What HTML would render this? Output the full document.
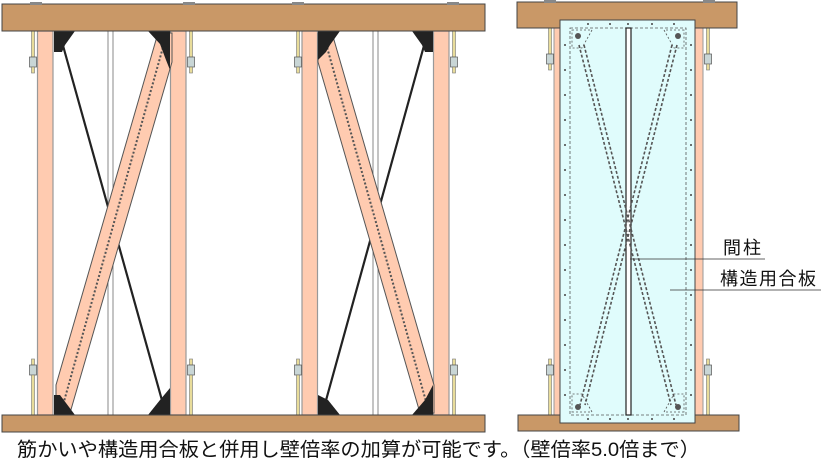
<!DOCTYPE html>
<html><head><meta charset="utf-8"><style>
body{margin:0;background:#fff;width:821px;height:464px;overflow:hidden}
svg{display:block}
</style></head><body>
<svg width="821" height="464" viewBox="0 0 821 464" xmlns="http://www.w3.org/2000/svg">
<defs>
<g id="bolt">
  <rect x="-1.5" y="0" width="3" height="26" fill="#e8dc9a" stroke="#777" stroke-width="0.6"/>
  <rect x="-3.5" y="26" width="7" height="10" fill="#c9d6d6" stroke="#555" stroke-width="0.7"/>
  <rect x="-1.5" y="36" width="3" height="6" fill="#e8dc9a" stroke="#777" stroke-width="0.6"/>
</g>
<g id="bolt2">
  <rect x="-1.5" y="-6" width="3" height="6" fill="#e8dc9a" stroke="#777" stroke-width="0.6"/>
  <rect x="-3.5" y="0" width="7" height="10" fill="#c9d6d6" stroke="#555" stroke-width="0.7"/>
  <rect x="-1.5" y="10" width="3" height="40" fill="#e8dc9a" stroke="#777" stroke-width="0.6"/>
</g>
</defs>

<rect x="108" y="31" width="5" height="384" fill="#fff" stroke="#888" stroke-width="1"/>
<rect x="373" y="31" width="5" height="384" fill="#fff" stroke="#888" stroke-width="1"/>
<g fill="#ffcbb0" stroke="#999" stroke-width="1.2">
<rect x="37.5" y="31" width="15.5" height="384"/>
<rect x="170.5" y="31" width="15.5" height="384"/>
<rect x="302" y="31" width="15.5" height="384"/>
<rect x="433.5" y="31" width="15.5" height="384"/>
</g>
<g stroke="#222" stroke-width="2.2">
<line x1="62" y1="42" x2="163" y2="404"/>
<line x1="425" y1="42" x2="325" y2="404"/>
</g>
<polygon points="158,33 172,33 172,62 70,413 56,413 56,385" fill="#ffcbb0" stroke="#555" stroke-width="1"/>
<line x1="165" y1="40" x2="63" y2="405" stroke="#555" stroke-width="2" stroke-dasharray="2,2"/>
<polygon points="318,33 332,33 434,385 434,413 420,413 318,62" fill="#ffcbb0" stroke="#555" stroke-width="1"/>
<line x1="325" y1="40" x2="427" y2="405" stroke="#555" stroke-width="2" stroke-dasharray="2,2"/>
<g fill="#222">
<polygon points="54,31 75,31 65,45 62,52 54,52"/>
<polygon points="148,31 170,31 170,70 166,60 160,44"/>
<polygon points="318,31 340,31 330,45 326,52 318,60"/>
<polygon points="412,31 433,31 433,52 425,52 422,45"/>
<polygon points="54,395 60,395 75,415 54,415"/>
<polygon points="170,388 170,415 148,415 160,400"/>
<polygon points="318,395 318,415 340,415 328,400"/>
<polygon points="433,385 433,415 412,415 425,400"/>
</g>
<use href="#bolt" x="33" y="31"/>
<use href="#bolt" x="191" y="31"/>
<use href="#bolt" x="298" y="31"/>
<use href="#bolt" x="454" y="31"/>
<use href="#bolt2" x="33" y="365"/>
<use href="#bolt2" x="191" y="365"/>
<use href="#bolt2" x="298" y="365"/>
<use href="#bolt2" x="454" y="365"/>
<rect x="2" y="4" width="483" height="27" fill="#c99867" stroke="#444" stroke-width="1"/>
<rect x="2" y="415" width="483" height="17" fill="#c99867" stroke="#444" stroke-width="1"/>
<rect x="30" y="2" width="12" height="3" fill="#888"/>
<rect x="183" y="2" width="12" height="3" fill="#888"/>
<rect x="292" y="2" width="12" height="3" fill="#888"/>
<rect x="447" y="2" width="12" height="3" fill="#888"/>

<rect x="554" y="28" width="8" height="387" fill="#ffcbb0" stroke="#999"/>
<rect x="693" y="28" width="10" height="387" fill="#ffcbb0" stroke="#999"/>
<use href="#bolt" x="550" y="28"/>
<use href="#bolt" x="708" y="28"/>
<use href="#bolt2" x="550" y="365"/>
<use href="#bolt2" x="708" y="365"/>
<rect x="517" y="2" width="220" height="26" fill="#c99867" stroke="#444" stroke-width="1"/>
<rect x="518" y="415" width="221" height="16" fill="#c99867" stroke="#444" stroke-width="1"/>
<rect x="544" y="0" width="12" height="3" fill="#888"/>
<rect x="703" y="0" width="12" height="3" fill="#888"/>
<rect x="560" y="20" width="135" height="403" fill="#e0fcfc" stroke="#444" stroke-width="1"/>
<rect x="570" y="28" width="116" height="387" fill="none" stroke="#555" stroke-width="0.8" stroke-dasharray="3,2"/>
<rect x="626" y="28" width="5" height="387" fill="#fff" stroke="#222" stroke-width="1.2"/>
<g stroke="#555" stroke-width="1.6" stroke-dasharray="3,2" fill="none">
<line x1="579" y1="45" x2="671" y2="405"/>
<line x1="584" y1="45" x2="676" y2="405"/>
<line x1="677" y1="45" x2="585" y2="405"/>
<line x1="672" y1="45" x2="580" y2="405"/>
</g>
<g fill="none" stroke="#555" stroke-width="0.8" stroke-dasharray="2,2">
<path d="M572,30 L592,30 L582,48 L572,48 Z"/>
<path d="M684,30 L664,30 L674,48 L684,48 Z"/>
<path d="M572,412 L592,412 L582,394 L572,394 Z"/>
<path d="M684,412 L664,412 L674,394 L684,394 Z"/>
</g>
<g fill="#555">
<circle cx="578" cy="36" r="3"/><circle cx="678" cy="36" r="3"/>
<circle cx="578" cy="407" r="3"/><circle cx="678" cy="407" r="3"/>
</g>
<g fill="#444">
<circle cx="588" cy="24" r="1"/><circle cx="610" cy="24" r="1"/><circle cx="628" cy="24" r="1"/><circle cx="652" cy="24" r="1"/><circle cx="674" cy="24" r="1"/>
<circle cx="588" cy="419" r="1"/><circle cx="610" cy="419" r="1"/><circle cx="628" cy="419" r="1"/><circle cx="652" cy="419" r="1"/><circle cx="674" cy="419" r="1"/>
<circle cx="565" cy="45" r="1"/><circle cx="565" cy="70" r="1"/><circle cx="565" cy="95" r="1"/><circle cx="565" cy="120" r="1"/><circle cx="565" cy="145" r="1"/><circle cx="565" cy="170" r="1"/><circle cx="565" cy="195" r="1"/><circle cx="565" cy="220" r="1"/><circle cx="565" cy="245" r="1"/><circle cx="565" cy="270" r="1"/><circle cx="565" cy="295" r="1"/><circle cx="565" cy="320" r="1"/><circle cx="565" cy="345" r="1"/><circle cx="565" cy="370" r="1"/><circle cx="565" cy="395" r="1"/>
<circle cx="691" cy="45" r="1"/><circle cx="691" cy="70" r="1"/><circle cx="691" cy="95" r="1"/><circle cx="691" cy="120" r="1"/><circle cx="691" cy="145" r="1"/><circle cx="691" cy="170" r="1"/><circle cx="691" cy="195" r="1"/><circle cx="691" cy="220" r="1"/><circle cx="691" cy="245" r="1"/><circle cx="691" cy="270" r="1"/><circle cx="691" cy="295" r="1"/><circle cx="691" cy="320" r="1"/><circle cx="691" cy="345" r="1"/><circle cx="691" cy="370" r="1"/><circle cx="691" cy="395" r="1"/>
</g>
<line x1="630" y1="259" x2="765" y2="259" stroke="#333" stroke-width="0.8"/>
<line x1="670" y1="290" x2="821" y2="290" stroke="#333" stroke-width="0.8"/>
<g font-family="Liberation Sans, Noto Sans CJK JP, sans-serif" fill="#111">
<text x="723" y="254" font-size="18" textLength="38">間柱</text>
<text x="720" y="285" font-size="18" textLength="96">構造用合板</text>
<text x="17" y="456" font-size="19.5" textLength="683" lengthAdjust="spacingAndGlyphs">筋かいや構造用合板と併用し壁倍率の加算が可能です。（壁倍率5.0倍まで）</text>
</g>
</svg>
</body></html>
